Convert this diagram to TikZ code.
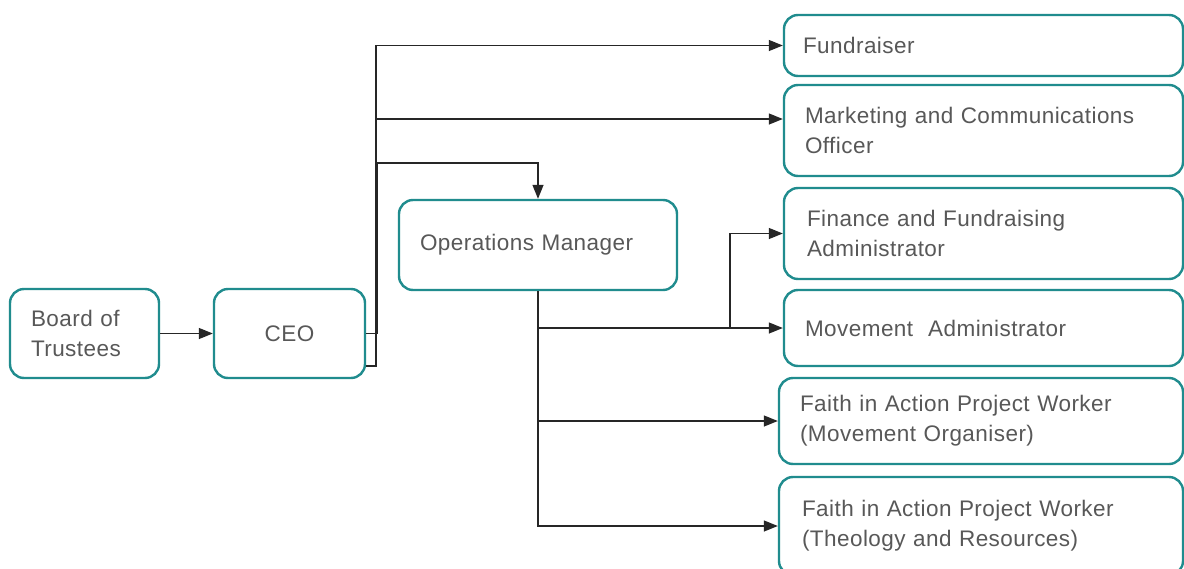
\documentclass[tikz,border=0pt]{standalone}
\usepackage{fontspec}
\setmainfont[LetterSpace=2]{Liberation Sans}
\usetikzlibrary{arrows.meta}
\definecolor{boxteal}{RGB}{32,140,142}
\definecolor{txtgrey}{RGB}{88,88,88}
\tikzset{
  box/.style={draw=boxteal, line width=2.4pt, rounded corners=14pt, fill=white,
    text=txtgrey, align=left, inner ysep=0pt,
    font=\fontsize{22.5}{30}\selectfont},
  conn/.style={draw=black!85, line width=1.3pt, -{Triangle[length=14pt,width=11pt]}},
  plain/.style={draw=black, line width=1.4pt}
}
\begin{document}
\begin{tikzpicture}[x=1pt,y=-1pt]
\clip (0,0) rectangle (1184,568);
\fill[white] (0,0) rectangle (1184,568);
% nodes
\node[box, minimum height=89pt, inner xsep=21pt, text width=107pt] (Board) at (84.5,333.5) {Board of\\Trustees};
\node[box, minimum height=89pt, minimum width=151pt, align=center] (CEO) at (289.5,333.5) {CEO};
\node[box, minimum height=90pt, inner xsep=21pt, text width=236pt] (Ops) at (538,245) {Operations Manager};
\node[box, minimum height=61pt, inner xsep=19pt, text width=361pt] (Fund) at (983.5,45.5) {Fundraiser};
\node[box, minimum height=91pt, inner xsep=21pt, text width=357pt] (Mkt) at (983.5,130.5) {Marketing and Communications\\Officer};
\node[box, minimum height=91pt, inner xsep=23pt, text width=353pt] (Fin) at (983.5,233.5) {Finance and Fundraising\\Administrator};
\node[box, minimum height=76pt, inner xsep=21pt, text width=357pt] (Mov) at (983.5,328) {Movement\ \ Administrator};
\node[box, minimum height=86pt, inner xsep=21pt, text width=362pt] (FA1) at (981,421) {Faith in Action Project Worker\\(Movement Organiser)};
\node[box, minimum height=98pt, inner xsep=23pt, text width=358pt] (FA2) at (981,526) {Faith in Action Project Worker\\(Theology and Resources)};
% connectors
\draw[conn] (Board.east) -- (CEO.west);
\draw[conn] (CEO.east) -- (377,333.5) -- (377,163) -| (Ops.north);
\draw[conn] ([yshift=-32.5pt]CEO.east) -- (376,366) |- (Fund.west);
\coordinate (m0) at (375,119);
\draw[conn] (m0) -- (Mkt.west |- m0);
\draw[conn] (Ops.south) |- (Mov.west);
\coordinate (f0) at (730,328);
\draw[conn] (f0) |- (Fin.west);
\draw[conn] (Ops.south) |- (FA1.west);
\draw[conn] (Ops.south) |- (FA2.west);
\end{tikzpicture}
\end{document}
